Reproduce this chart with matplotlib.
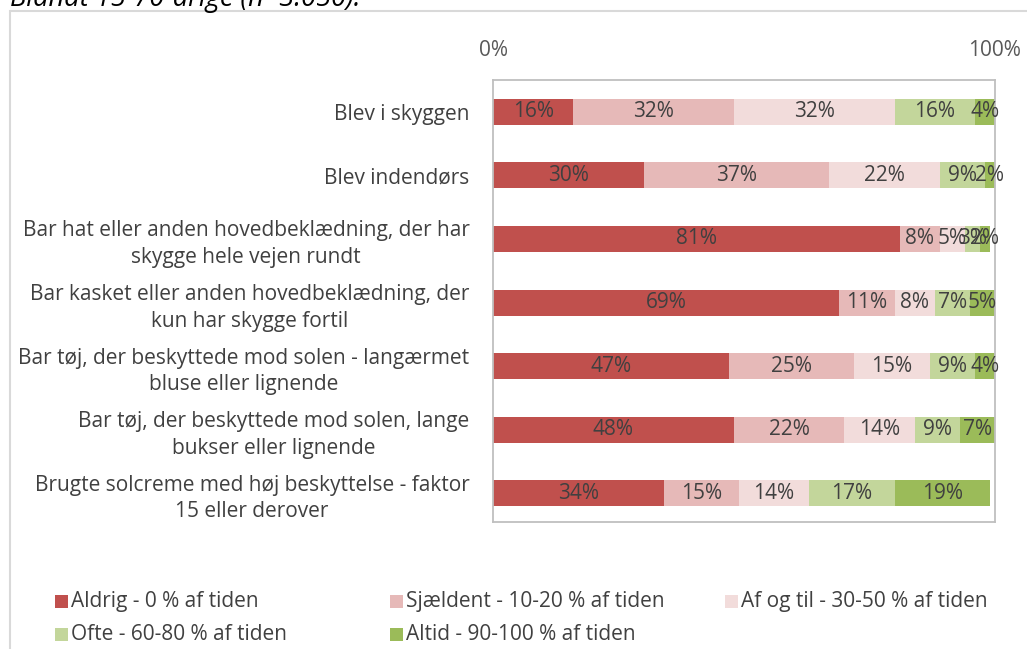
import matplotlib.pyplot as plt
from matplotlib.patches import Rectangle

plt.rcParams['font.family'] = ['Open Sans', 'DejaVu Sans']

categories = [
    "Blev i skyggen",
    "Blev indendørs",
    "Bar hat eller anden hovedbeklædning, der har\nskygge hele vejen rundt",
    "Bar kasket eller anden hovedbeklædning, der\nkun har skygge fortil",
    "Bar tøj, der beskyttede mod solen - langærmet\nbluse eller lignende",
    "Bar tøj, der beskyttede mod solen, lange\nbukser eller lignende",
    "Brugte solcreme med høj beskyttelse - faktor\n15 eller derover",
]
series_names = [
    "Aldrig - 0 % af tiden",
    "Sjældent - 10-20 % af tiden",
    "Af og til - 30-50 % af tiden",
    "Ofte - 60-80 % af tiden",
    "Altid - 90-100 % af tiden",
]
aldrig = [16, 30, 81, 69, 47, 48, 34]
sjaeldent = [32, 37, 8, 11, 25, 22, 15]
af_og_til = [32, 22, 5, 8, 15, 14, 14]
ofte = [16, 9, 3, 7, 9, 9, 17]
altid = [4, 2, 2, 5, 4, 7, 19]
colors = ['#C0504D', '#E6B9B8', '#F2DCDB', '#C3D69B', '#9BBB59']

W, H = 1027, 649
fig = plt.figure(figsize=(W / 100, H / 100), dpi=100)

# outer chart frame (partly cut off)
fig.patches.append(Rectangle((10 / W, -0.1), 1.2, 1 - 11.5 / H + 0.1, transform=fig.transFigure,
                             fill=False, edgecolor='#D9D9D9', linewidth=1.5))
fig.text(10 / W, 1 - 6 / H, "Blandt 15-70-årige (n=3.050).", fontsize=19.5, style='italic',
         color='#000000', va='baseline', ha='left')

ax = fig.add_axes([493 / W, 1 - 522 / H, (995 - 493) / W, (522 - 80) / H])
ypos = list(range(len(categories)))
left = [0] * len(categories)
for vals, name, c in zip([aldrig, sjaeldent, af_og_til, ofte, altid], series_names, colors):
    ax.barh(ypos, vals, left=left, height=0.41, color=c, label=name)
    for y, v, l in zip(ypos, vals, left):
        ax.text(l + v / 2, y, f"{v}%", ha='center', va='center', fontsize=15, color='#404040')
    left = [l + v for l, v in zip(left, vals)]

ax.set_xlim(0, 100)
ax.set_ylim(6.45, -0.5)
ax.set_yticks(ypos)
ax.set_yticklabels(categories, fontsize=15, color='#404040', ha='right',
                   multialignment='center', linespacing=1.35)
ax.set_xticks([0, 100])
ax.set_xticklabels(["0%", "100%"], fontsize=15, color='#595959')
ax.xaxis.tick_top()
ax.tick_params(axis='both', length=0)
ax.tick_params(axis='x', pad=14)
ax.tick_params(axis='y', pad=17)
for s in ax.spines.values():
    s.set_color('#BFBFBF')
    s.set_linewidth(1.3)

# legend laid out row-wise, three per row
for i, (name, c) in enumerate(zip(series_names, colors)):
    x0 = (55 + 335 * (i % 3)) / W
    y0 = 1 - (601 + 33 * (i // 3)) / H
    fig.patches.append(Rectangle((x0, y0 - 6.5 / H), 13 / W, 13 / H, transform=fig.transFigure,
                                 facecolor=c, edgecolor='none'))
    fig.text(x0 + 16 / W, y0, name, fontsize=15, color='#404040', va='center', ha='left')

fig.savefig("out.png", dpi=100)
